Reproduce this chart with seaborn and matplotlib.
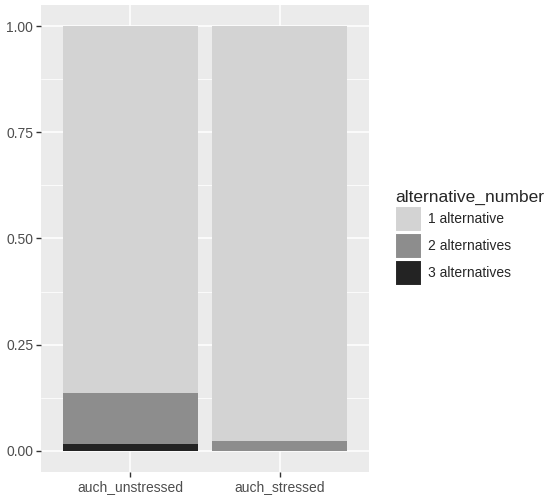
import pandas as pd
import matplotlib
matplotlib.use("Agg")
import matplotlib.pyplot as plt
from matplotlib.patches import Patch
from matplotlib.ticker import MultipleLocator, FormatStrFormatter
import seaborn as sns

# proportions
groups = ["auch_unstressed", "auch_stressed"]
levels = ["1 alternative", "2 alternatives", "3 alternatives"]
unstressed = [0.864, 0.120, 0.016]
stressed = [0.976, 0.024, 0.0]
colors = ["#D3D3D3", "#8D8D8D", "#232323"]

df = pd.DataFrame({
    "group": [g for g in groups for _ in levels],
    "alternative_number": levels * 2,
    "prop": unstressed + stressed,
})

sns.set_theme(style="darkgrid", rc={
    "axes.facecolor": "#EBEBEB",
    "grid.color": "white",
    "axes.edgecolor": "#EBEBEB",
})
plt.rcParams["font.family"] = ["Liberation Sans", "DejaVu Sans"]

fig = plt.figure(figsize=(5.5, 4.99), dpi=100)
ax = fig.add_axes([41 / 550, 27 / 499, 328 / 550, 467 / 499])

# stack from bottom: 3 alt, then 2 alt, then 1 alt on top
bottom = {g: 0.0 for g in groups}
for lev, col in zip(levels[::-1], colors[::-1]):
    sub = df[df["alternative_number"] == lev]
    sns.barplot(data=sub, x="group", y="prop", order=groups, color=col,
                width=0.9, ax=ax, linewidth=0,
                bottom=[bottom[g] for g in sub["group"]])
    for g, v in zip(sub["group"], sub["prop"]):
        bottom[g] += v

ax.set_xlim(-0.6, 1.6)
ax.set_ylim(-0.05, 1.05)
ax.yaxis.set_major_locator(MultipleLocator(0.25))
ax.yaxis.set_minor_locator(MultipleLocator(0.125))
ax.yaxis.set_major_formatter(FormatStrFormatter("%.2f"))
ax.grid(which="major", color="white", linewidth=1.1)
ax.grid(which="minor", axis="y", color="white", linewidth=0.55)
ax.set_axisbelow(True)
ax.set_xlabel("")
ax.set_ylabel("")
ax.tick_params(axis="both", which="major", length=3.5, width=1, color="#333333",
               labelcolor="#4D4D4D", labelsize=10, pad=2, bottom=True, left=True)
ax.tick_params(axis="y", which="minor", length=0)
for s in ax.spines.values():
    s.set_visible(False)

handles = [Patch(facecolor=c, edgecolor="white", linewidth=1.5) for c in colors]
leg = fig.legend(handles, levels, title="alternative_number", loc="upper left",
                 bbox_to_anchor=(395 / 550, 1 - 190 / 499), frameon=False,
                 fontsize=10, title_fontsize=12.5, handlelength=1.95,
                 handleheight=2.5, labelspacing=0.07, handletextpad=0.4,
                 borderaxespad=0, borderpad=0)
leg._legend_box.align = "left"

fig.savefig("out.png", dpi=100, facecolor="white")
